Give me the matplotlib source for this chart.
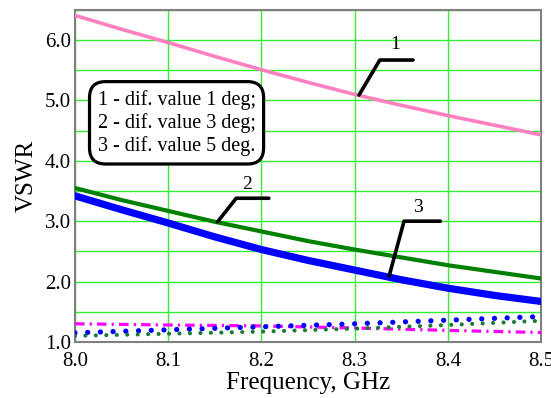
import matplotlib.pyplot as plt
from matplotlib.ticker import MultipleLocator

plt.rcParams['font.family'] = ['Liberation Serif', 'DejaVu Serif']

#frequency points, GHz
freq = [8.0, 8.05, 8.1, 8.15, 8.2, 8.25, 8.3, 8.35, 8.4, 8.45, 8.5]
#VSWR curves 1, 2, 3
vswr_1 = [6.41, 6.18, 5.96, 5.73, 5.51, 5.30, 5.10, 4.92, 4.75, 4.59, 4.43]
vswr_2 = [3.55, 3.35, 3.17, 2.99, 2.83, 2.67, 2.53, 2.40, 2.27, 2.16, 2.05]
vswr_3 = [3.42, 3.19, 2.97, 2.74, 2.53, 2.35, 2.19, 2.03, 1.89, 1.77, 1.67]

#low curves at the bottom
freq_low = [8.0, 8.1, 8.2, 8.3, 8.4, 8.5]
low_magenta = [1.30, 1.28, 1.265, 1.23, 1.19, 1.155]
low_blue = [1.15, 1.20, 1.25, 1.30, 1.36, 1.42]
low_green = [1.10, 1.135, 1.17, 1.22, 1.28, 1.35]

legend_lines = ["1 - dif. value 1 deg;", "2 - dif. value 3 deg;", "3 - dif. value 5 deg."]

#leader lines: (x points, y points, label, label position)
leaders = [
	([8.3047, 8.327, 8.3627], [5.09, 5.67, 5.67], "1", (8.343, 5.93)),
	([8.153, 8.173, 8.208], [2.99, 3.38, 3.38], "2", (8.185, 3.6)),
	([8.337, 8.353, 8.392], [2.09, 3.0, 3.0], "3", (8.368, 3.22)),
]

fig = plt.figure(figsize=(5.51, 3.98), dpi=100)
ax = fig.add_axes([0.136, 0.141, 0.846, 0.834])

ax.plot(freq, vswr_1, color="#ff80c0", lw=2.6, zorder=3)
ax.plot(freq, vswr_2, color="#008000", lw=3.0, zorder=3)
ax.plot(freq, vswr_3, color="#0000ff", lw=5.2, zorder=3)

ax.plot(freq_low, low_magenta, color="#ff00ff", lw=2.3, zorder=3,
	linestyle=(0, (3.0, 1.6, 0.7, 1.6)))
ax.plot(freq_low, low_blue, color="#0000ff", lw=3.8, zorder=3,
	linestyle=(0, (0.01, 2.4)), dash_capstyle="round")
ax.plot(freq_low, low_green, color="#1a7a3a", lw=3.0, zorder=3,
	linestyle=(0, (0.01, 2.5)), dash_capstyle="round")

for xs, ys, lab, pos in leaders:
	ax.plot(xs, ys, color="black", lw=2.6, solid_capstyle="round", zorder=4)
	ax.text(pos[0], pos[1], lab, fontsize=14, ha="center", va="center", zorder=4)

ax.text(8.109, 4.63, "\n".join(legend_lines), fontsize=14.5, ha="center", va="center",
	multialignment="left", linespacing=1.22, zorder=5,
	bbox=dict(boxstyle="round,pad=0.4,rounding_size=0.8", fc="white", ec="black", lw=2.3))

ax.set_xlim(8.0, 8.5)
ax.set_ylim(1.0, 6.5)
ax.xaxis.set_major_locator(MultipleLocator(0.1))
ax.yaxis.set_major_locator(MultipleLocator(1.0))
ax.yaxis.set_minor_locator(MultipleLocator(0.5))
ax.xaxis.set_major_formatter(plt.FormatStrFormatter("%.1f"))
ax.yaxis.set_major_formatter(plt.FormatStrFormatter("%.1f"))
ax.grid(True, which="both", color="#33ee33", lw=1.0)
ax.set_axisbelow(True)
ax.tick_params(which="both", length=0, labelsize=15)
ax.tick_params(axis="x", pad=7)
ax.tick_params(axis="y", pad=3)
for s in ax.spines.values():
	s.set_color("#808080")
	s.set_linewidth(1.5)

ax.set_xlabel("Frequency, GHz", fontsize=18, labelpad=1)
ax.set_ylabel("VSWR", fontsize=18, labelpad=5)

plt.savefig("out.png", dpi=100)
